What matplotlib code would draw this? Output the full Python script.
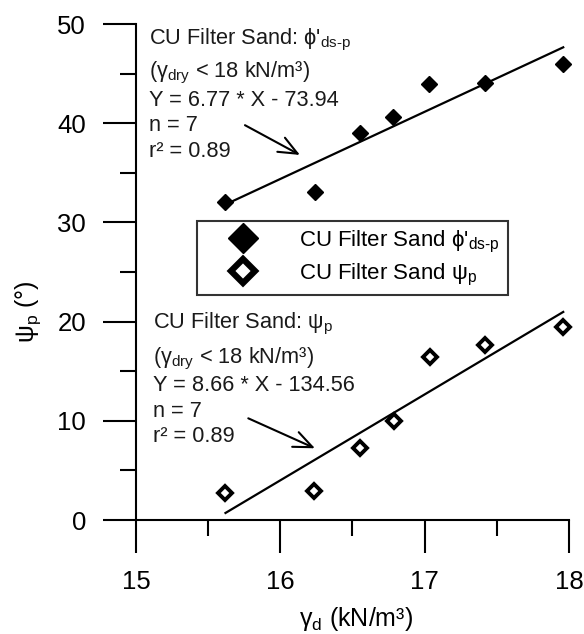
import numpy as np
import matplotlib
matplotlib.use("Agg")
import matplotlib.pyplot as plt

# donnees
gamma_phi = [15.62, 16.24, 16.55, 16.78, 17.03, 17.42, 17.96]
phi_p = [32.1, 33.1, 39.0, 40.6, 44.0, 44.1, 46.0]
gamma_psi = [15.62, 16.23, 16.55, 16.79, 17.04, 17.42, 17.96]
psi_p = [2.7, 2.9, 7.3, 10.0, 16.4, 17.6, 19.5]

# droites de regression (pente, ordonnee a l'origine)
fit_phi = (6.77, -73.94)
fit_psi = (8.66, -134.56)

plt.rcParams['font.family'] = ['Liberation Sans', 'DejaVu Sans']
plt.rcParams['mathtext.fontset'] = 'custom'
plt.rcParams['mathtext.rm'] = 'Liberation Sans'
plt.rcParams['mathtext.it'] = 'Liberation Sans:italic'
plt.rcParams['mathtext.bf'] = 'Liberation Sans:bold'

fig = plt.figure(figsize=(5.84, 6.34), dpi=100)
ax = fig.add_axes([136/584, 1-520/634, 433/584, 496/634])

sub_dsp = "$_{\\mathregular{ds\\text{-}p}}$"

# points
ax.plot(gamma_phi, phi_p, 'D', color='black', ms=8.5, clip_on=False,
        label="CU Filter Sand ϕ'" + sub_dsp)
ax.plot(gamma_psi, psi_p, 'D', mfc='white', mec='black', mew=2.8, ms=7,
        clip_on=False, label="CU Filter Sand ψ$_{\\mathregular{p}}$")

# droites
x1 = np.array([min(gamma_phi), max(gamma_phi)])
ax.plot(x1, fit_phi[0]*x1 + fit_phi[1], '-', color='black', lw=1.6)
x2 = np.array([min(gamma_psi), max(gamma_psi)])
ax.plot(x2, fit_psi[0]*x2 + fit_psi[1], '-', color='black', lw=1.6)

# textes
fs = 15.7
top_lines = ["CU Filter Sand: ϕ'" + sub_dsp,
             "(γ$_{\\mathregular{dry}}$ < 18 kN/m³)",
             "Y = 6.77 * X - 73.94",
             "n = 7",
             "r² = 0.89"]
top_y = [47.9, 44.6, 41.7, 39.2, 36.6]
for t, y in zip(top_lines, top_y):
    ax.text(15.09, y, t, fontsize=fs, va='baseline', ha='left', color='#1a1a1a')

bot_lines = ["CU Filter Sand: ψ$_{\\mathregular{p}}$",
             "(γ$_{\\mathregular{dry}}$ < 18 kN/m³)",
             "Y = 8.66 * X - 134.56",
             "n = 7",
             "r² = 0.89"]
bot_y = [19.3, 15.8, 13.0, 10.4, 7.9]
for t, y in zip(bot_lines, bot_y):
    ax.text(15.12, y, t, fontsize=fs, va='baseline', ha='left', color='#1a1a1a')

# fleches
arrow = dict(arrowstyle='->, head_length=0.75, head_width=0.32', lw=1.5,
             color='black', shrinkA=0, shrinkB=0, mutation_scale=18)
ax.annotate('', xy=(16.136, 36.8), xytext=(15.755, 39.8), arrowprops=arrow)
ax.annotate('', xy=(16.24, 7.23), xytext=(15.778, 10.25), arrowprops=arrow)

# axes
ax.set_xlim(15, 18)
ax.set_ylim(0, 50)
ax.set_xticks([15, 16, 17, 18])
ax.set_xticks([15.5, 16.5, 17.5], minor=True)
ax.set_yticks([0, 10, 20, 30, 40, 50])
ax.set_yticks([5, 15, 25, 35, 45], minor=True)
ax.spines['top'].set_visible(False)
ax.spines['right'].set_visible(False)
ax.spines['left'].set_linewidth(1.5)
ax.spines['bottom'].set_linewidth(1.5)
ax.tick_params(which='major', direction='out', length=24, width=1.5,
               labelsize=18.5, pad=12)
ax.tick_params(which='minor', direction='out', length=11.5, width=1.5)

ax.set_xlabel("γ$_{\\mathregular{d}}$ (kN/m³)", fontsize=18)
ax.set_ylabel("ψ$_{\\mathregular{p}}$ (°)", fontsize=18)
ax.xaxis.set_label_coords(0.507, -0.172)
ax.yaxis.set_label_coords(-0.215, 0.42)

leg = ax.legend(loc='upper left', bbox_to_anchor=(0.141, 0.603),
                borderaxespad=0, fontsize=16, markerscale=1.75,
                handlelength=3.4, handletextpad=0.85, borderpad=0.35,
                labelspacing=0.3, fancybox=False, framealpha=1,
                edgecolor='#333333')
leg.get_frame().set_linewidth(1.5)
leg.legend_handles[1].set_markeredgewidth(4.5)

fig.savefig("out.png", dpi=100)
